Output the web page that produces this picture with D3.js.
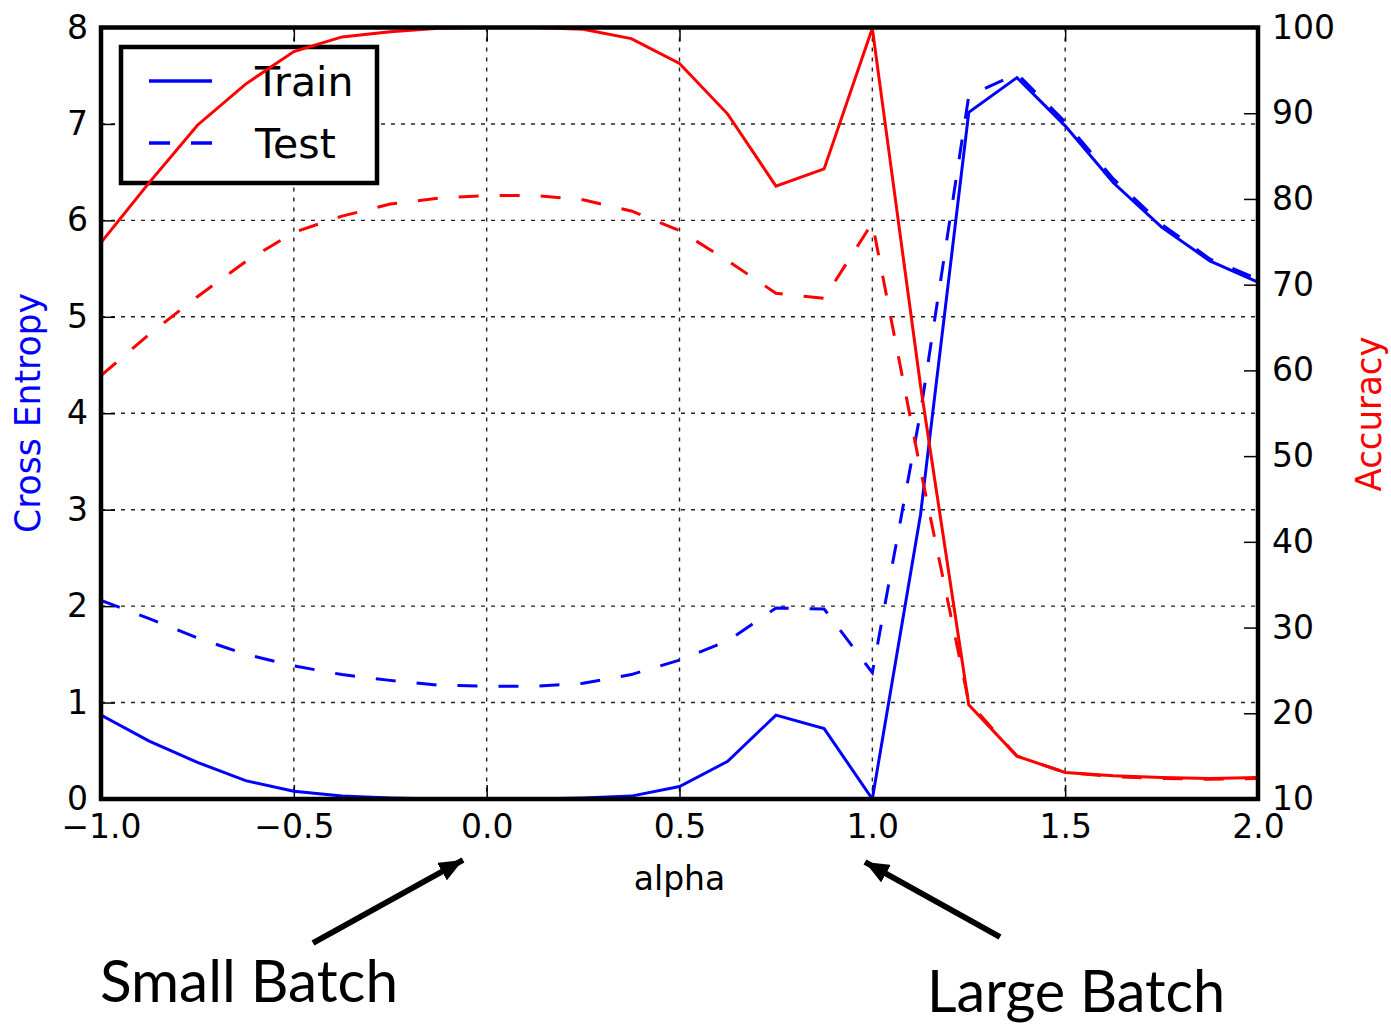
<!DOCTYPE html>
<html>
<head>
<meta charset="utf-8">
<script src="https://cdn.jsdelivr.net/npm/d3@7"></script>
<style>
  body { margin: 0; background: #fff; }
  svg { display: block; }
</style>
</head>
<body>
<div id="chart"></div>
<script>
// interpolation coefficient along the path between the two minimisers
const alphas = [-1.0, -0.875, -0.75, -0.625, -0.5, -0.375, -0.25, -0.125, 0.0,
  0.125, 0.25, 0.375, 0.5, 0.625, 0.75, 0.875, 1.0, 1.125, 1.25, 1.375, 1.5,
  1.625, 1.75, 1.875, 2.0];

const trainLoss = [0.87, 0.60, 0.38, 0.19, 0.08, 0.03, 0.01, 0.0, 0.0, 0.0, 0.01,
  0.03, 0.13, 0.39, 0.87, 0.73, 0.0, 2.95, 7.12, 7.48, 6.98, 6.39, 5.93, 5.58, 5.36];
const testLoss = [2.06, 1.87, 1.67, 1.50, 1.38, 1.29, 1.23, 1.18, 1.17, 1.17, 1.20,
  1.29, 1.44, 1.64, 1.98, 1.97, 1.31, 4.01, 7.29, 7.52, 7.02, 6.43, 5.96, 5.60, 5.39];
const trainAcc = [74.9, 81.9, 88.6, 93.4, 97.2, 98.9, 99.5, 99.9, 100, 100, 99.8,
  98.7, 95.8, 89.9, 81.5, 83.5, 99.9, 58.2, 21.0, 15.0, 13.1, 12.7, 12.5, 12.4, 12.5];
const testAcc = [59.4, 64.2, 68.6, 72.7, 76.1, 78.0, 79.4, 80.1, 80.4, 80.4, 79.9,
  78.6, 76.3, 72.8, 69.0, 68.4, 77.2, 48.4, 21.3, 15.0, 13.1, 12.6, 12.4, 12.3, 12.4];

const xTicks = [-1.0, -0.5, 0.0, 0.5, 1.0, 1.5, 2.0];
const yLeftTicks = [0, 1, 2, 3, 4, 5, 6, 7, 8];
const yRightTicks = [10, 20, 30, 40, 50, 60, 70, 80, 90, 100];

const W = 1391, H = 1025;
const box = { left: 101, right: 1258, top: 27.5, bottom: 799 };

const svg = d3.select("#chart").append("svg")
  .attr("width", W).attr("height", H)
  .attr("viewBox", `0 0 ${W} ${H}`);

const x = d3.scaleLinear().domain([-1, 2]).range([box.left, box.right]);
const yL = d3.scaleLinear().domain([0, 8]).range([box.bottom, box.top]);
const yR = d3.scaleLinear().domain([10, 100]).range([box.bottom, box.top]);

const tickFont = "'DejaVu Sans', sans-serif";
const fmt = d => d3.format(".1f")(d).replace("-", "\u2212");

svg.append("defs").append("clipPath").attr("id", "plotclip")
  .append("rect")
  .attr("x", box.left).attr("y", box.top)
  .attr("width", box.right - box.left).attr("height", box.bottom - box.top);

// grid
const grid = svg.append("g")
  .attr("stroke", "#222").attr("stroke-width", 1.4).attr("stroke-dasharray", "4,6");
grid.selectAll(".gx").data(xTicks.slice(1, -1)).join("line")
  .attr("x1", d => x(d)).attr("x2", d => x(d))
  .attr("y1", box.top).attr("y2", box.bottom);
grid.selectAll(".gy").data(yLeftTicks.slice(1, -1)).join("line")
  .attr("x1", box.left).attr("x2", box.right)
  .attr("y1", d => yL(d)).attr("y2", d => yL(d));

function styleAxis(g) {
  g.select(".domain").remove();
  g.selectAll(".tick line").attr("stroke", "#000").attr("stroke-width", 1.5);
  g.selectAll(".tick text").attr("fill", "#000")
    .style("font-family", tickFont).style("font-size", "33px");
}

svg.append("g").attr("transform", `translate(0,${box.bottom})`)
  .call(d3.axisBottom(x).tickValues(xTicks).tickFormat(fmt).tickSizeInner(-14).tickSizeOuter(0).tickPadding(16))
  .call(styleAxis);
svg.append("g").attr("transform", `translate(0,${box.top})`)
  .call(d3.axisTop(x).tickValues(xTicks).tickFormat("").tickSizeInner(-14).tickSizeOuter(0))
  .call(styleAxis);
svg.append("g").attr("transform", `translate(${box.left},0)`)
  .call(d3.axisLeft(yL).tickValues(yLeftTicks).tickFormat(d3.format("d")).tickSizeInner(-14).tickSizeOuter(0).tickPadding(13))
  .call(styleAxis);
svg.append("g").attr("transform", `translate(${box.right},0)`)
  .call(d3.axisRight(yR).tickValues(yRightTicks).tickFormat(d3.format("d")).tickSizeInner(-14).tickSizeOuter(0).tickPadding(14))
  .call(styleAxis);

// loss curves (left axis)
const lineL = d3.line().x((d, i) => x(alphas[i])).y(d => yL(d));
const lineR = d3.line().x((d, i) => x(alphas[i])).y(d => yR(d));

const plot = svg.append("g").attr("clip-path", "url(#plotclip)");
plot.append("path").datum(trainLoss).attr("d", lineL)
  .attr("fill", "none").attr("stroke", "#0000ff").attr("stroke-width", 3);
plot.append("path").datum(testLoss).attr("d", lineL)
  .attr("fill", "none").attr("stroke", "#0000ff").attr("stroke-width", 3)
  .attr("stroke-dasharray", "20,21");

// legend (belongs to the loss axes, so accuracy lines draw over it)
const legend = svg.append("g");
legend.append("rect").attr("x", 121).attr("y", 47).attr("width", 256).attr("height", 136)
  .attr("fill", "#fff").attr("stroke", "#000").attr("stroke-width", 4.5);
const legendItems = [{ name: "Train", dash: null, y: 81 }, { name: "Test", dash: "21,21", y: 143 }];
legendItems.forEach(it => {
  legend.append("line").attr("x1", 149).attr("x2", 212).attr("y1", it.y).attr("y2", it.y)
    .attr("stroke", "#0000ff").attr("stroke-width", 3.5)
    .attr("stroke-dasharray", it.dash);
  legend.append("text").attr("x", 255).attr("y", it.y + 15)
    .style("font-family", tickFont).style("font-size", "41px").text(it.name);
});

// accuracy curves (right axis)
const plot2 = svg.append("g").attr("clip-path", "url(#plotclip)");
plot2.append("path").datum(trainAcc).attr("d", lineR)
  .attr("fill", "none").attr("stroke", "#ff0000").attr("stroke-width", 3);
plot2.append("path").datum(testAcc).attr("d", lineR)
  .attr("fill", "none").attr("stroke", "#ff0000").attr("stroke-width", 3)
  .attr("stroke-dasharray", "20,21");

// frame
svg.append("rect")
  .attr("x", box.left).attr("y", box.top)
  .attr("width", box.right - box.left).attr("height", box.bottom - box.top)
  .attr("fill", "none").attr("stroke", "#000").attr("stroke-width", 4.5);

// axis titles
svg.append("text").attr("x", x(0.5)).attr("y", 890).attr("text-anchor", "middle")
  .style("font-family", tickFont).style("font-size", "33px").text("alpha");
svg.append("text").attr("transform", "translate(40,413) rotate(-90)")
  .attr("text-anchor", "middle").attr("fill", "#0000ff")
  .attr("textLength", 240).attr("lengthAdjust", "spacingAndGlyphs")
  .style("font-family", tickFont).style("font-size", "35px").text("Cross Entropy");
svg.append("text").attr("transform", "translate(1381,414) rotate(-90)")
  .attr("text-anchor", "middle").attr("fill", "#ff0000")
  .attr("textLength", 155).attr("lengthAdjust", "spacingAndGlyphs")
  .style("font-family", tickFont).style("font-size", "35px").text("Accuracy");

// annotations
svg.select("defs").append("marker").attr("id", "head")
  .attr("viewBox", "0 0 24 20").attr("refX", 24).attr("refY", 10)
  .attr("markerWidth", 24).attr("markerHeight", 20)
  .attr("markerUnits", "userSpaceOnUse").attr("orient", "auto")
  .append("path").attr("d", "M0,0 L24,10 L0,20 Z").attr("fill", "#000");

const notes = [
  { label: "Small Batch", tx: 100, ty: 1002, from: [313, 943], to: [463, 860] },
  { label: "Large Batch", tx: 927, ty: 1012, from: [1000, 937], to: [865, 862] }
];
notes.forEach(n => {
  svg.append("line").attr("x1", n.from[0]).attr("y1", n.from[1])
    .attr("x2", n.to[0]).attr("y2", n.to[1])
    .attr("stroke", "#000").attr("stroke-width", 6).attr("marker-end", "url(#head)");
  svg.append("text").attr("x", n.tx).attr("y", n.ty)
    .attr("textLength", 298).attr("lengthAdjust", "spacingAndGlyphs")
    .style("font-family", "Lato, 'Open Sans', sans-serif").style("font-size", "58px")
    .text(n.label);
});
</script>
</body>
</html>
